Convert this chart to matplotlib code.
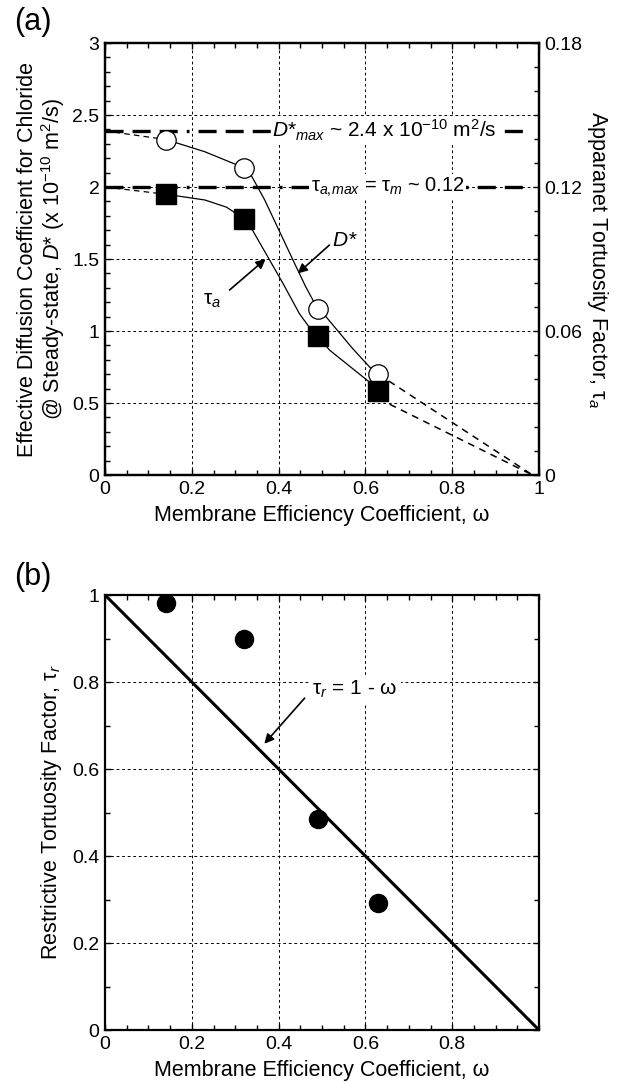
import matplotlib
matplotlib.use("Agg")
import matplotlib.pyplot as plt
from matplotlib.ticker import FixedLocator, MultipleLocator

plt.rcParams['font.family'] = 'Liberation Sans'
plt.rcParams['font.size'] = 14
plt.rcParams['mathtext.fontset'] = 'custom'
plt.rcParams['mathtext.rm'] = 'Liberation Sans'
plt.rcParams['mathtext.it'] = 'Liberation Sans:italic'
plt.rcParams['mathtext.bf'] = 'Liberation Sans:bold'
plt.rcParams['lines.scale_dashes'] = False

# ---- panel (a) data ----
omega = [0.14, 0.32, 0.49, 0.63]
d_star = [2.33, 2.134, 1.153, 0.70]          # x 1e-10 m2/s
tau_a = [0.117, 0.1068, 0.0579, 0.0351]      # apparent tortuosity

# smooth curves
d_curve_x = [0.14, 0.23, 0.32, 0.337, 0.368, 0.40, 0.432, 0.462, 0.49, 0.509, 0.57, 0.609, 0.63]
d_curve_y = [2.33, 2.245, 2.134, 2.08, 1.91, 1.705, 1.50, 1.31, 1.153, 1.10, 0.88, 0.752, 0.70]
t_curve_x = [0.14, 0.23, 0.28, 0.32, 0.337, 0.377, 0.412, 0.448, 0.471, 0.49, 0.517, 0.608, 0.63]
t_curve_y = [0.117, 0.1146, 0.1116, 0.1068, 0.1029, 0.0903, 0.0792, 0.0672, 0.0615, 0.0579, 0.0521, 0.0389, 0.0351]

# dashed extrapolations
d_ext_left = ([0.0, 0.14], [2.39, 2.33])
d_ext_right = ([0.63, 0.985], [0.70, 0.0])
t_ext_left = ([0.0, 0.14], [0.120, 0.117])
t_ext_right = ([0.63, 0.985], [0.0318, 0.0])

d_max = 2.39
tau_max = 0.12

# ---- panel (b) data ----
omega_b = [0.14, 0.32, 0.49, 0.63]
tau_r = [0.981, 0.898, 0.485, 0.291]
line_x = [0.0, 1.0]
line_y = [1.0, 0.0]

fig = plt.figure(figsize=(6.24, 10.84), dpi=100)
ax = fig.add_axes([0.1683, 0.5618, 0.6955, 0.3985])
ax2 = ax.twinx()
axb = fig.add_axes([0.1683, 0.0498, 0.6955, 0.4013])

grid_kw = dict(color='black', linewidth=0.7, linestyle=(0, (2, 2)), zorder=0)
ref_dash = (13, 6.5, 13, 6.5, 13, 6.5, 2, 6.5)


def style_ticks(a):
    a.tick_params(which='both', direction='in', width=1.0, labelsize=14)
    a.tick_params(which='major', length=4.5, pad=4)
    a.tick_params(which='minor', length=3.5)
    for s in a.spines.values():
        s.set_linewidth(1.6)


# ---------- (a) ----------
ax.set_xlim(0, 1)
ax.set_ylim(0, 3)
ax2.set_ylim(0, 0.18)
ax.xaxis.set_major_locator(FixedLocator([0, 0.2, 0.4, 0.6, 0.8, 1.0]))
ax.set_xticklabels(['0', '0.2', '0.4', '0.6', '0.8', '1'])
ax.xaxis.set_minor_locator(MultipleLocator(0.05))
ax.yaxis.set_major_locator(FixedLocator([0, 0.5, 1, 1.5, 2, 2.5, 3]))
ax.set_yticklabels(['0', '0.5', '1', '1.5', '2', '2.5', '3'])
ax.yaxis.set_minor_locator(MultipleLocator(0.1))
ax2.yaxis.set_major_locator(FixedLocator([0, 0.06, 0.12, 0.18]))
ax2.set_yticklabels(['0', '0.06', '0.12', '0.18'])
ax2.yaxis.set_minor_locator(MultipleLocator(0.01))
style_ticks(ax)
style_ticks(ax2)
ax.tick_params(which='both', top=True)
ax.tick_params(axis='y', which='both', right=False)

for gx in [0.2, 0.4, 0.6, 0.8]:
    ax.axvline(gx, **grid_kw)
for gy in [0.5, 1.0, 1.5, 2.0, 2.5]:
    ax.axhline(gy, **grid_kw)

# D* max line and label
ax.plot([0, 0.98], [d_max, d_max], color='black', linewidth=2.4,
        dashes=ref_dash, zorder=2)
ax.text(0.385, d_max, r'$D$*$_{max}$ ~ 2.4 x 10$^{-10}$ m$^2$/s', fontsize=15,
        va='center', ha='left', zorder=3,
        bbox=dict(facecolor='white', edgecolor='none', pad=1))

# D* series
ax.plot(d_curve_x, d_curve_y, color='black', linewidth=0.9, zorder=3)
ax.plot(*d_ext_left, color='black', linewidth=0.9, dashes=(4, 3), zorder=3)
ax.plot(*d_ext_right, color='black', linewidth=1.1, dashes=(5, 4), zorder=3)
ax.plot(omega, d_star, linestyle='none', marker='o', markersize=14,
        markerfacecolor='white', markeredgecolor='black', markeredgewidth=0.9, zorder=4)

ax.annotate('', xy=(0.444, 1.40), xytext=(0.517, 1.597),
            arrowprops=dict(arrowstyle='-|>', color='black', lw=1.2,
                            mutation_scale=14, shrinkA=0, shrinkB=0))
ax.text(0.522, 1.63, r'$D$*', fontsize=15, fontstyle='italic', va='center', ha='left')

# tau_a series on right axis
ax2.plot([0, 0.98], [tau_max, tau_max], color='black', linewidth=2.4,
         dashes=ref_dash, zorder=2)
ax2.text(0.474, tau_max, r'τ$_{a,\!max}$ = τ$_m$ ~ $\mathit{0.12}$', fontsize=14.5,
         va='center', ha='left', zorder=3,
         bbox=dict(facecolor='white', edgecolor='none', pad=1))
ax2.plot(t_curve_x, t_curve_y, color='black', linewidth=0.9, zorder=3)
ax2.plot(*t_ext_left, color='black', linewidth=0.9, dashes=(4, 3), zorder=3)
ax2.plot(*t_ext_right, color='black', linewidth=1.1, dashes=(5, 4), zorder=3)
ax2.plot(omega, tau_a, linestyle='none', marker='s', markersize=14,
         markerfacecolor='black', markeredgecolor='black', zorder=4)
ax2.annotate('', xy=(0.37, 0.090), xytext=(0.287, 0.0771),
             arrowprops=dict(arrowstyle='-|>', color='black', lw=1.2,
                             mutation_scale=14, shrinkA=0, shrinkB=0))
ax2.text(0.225, 0.0729, 'τ$_a$', fontsize=15, va='center', ha='left')

ax.set_xlabel('Membrane Efficiency Coefficient, ω', fontsize=15.5, labelpad=5)
ax.set_ylabel('Effective Diffusion Coefficient for Chloride\n'
              r'@ Steady-state, $D$* (x 10$^{-10}$ m$^2$/s)', fontsize=15.5,
              labelpad=4, linespacing=1.05)
ax2.set_ylabel('Apparanet Tortuosity Factor, τ$_a$', fontsize=15.5,
               rotation=270, labelpad=20)
fig.text(0.022, 0.980, '(a)', fontsize=22, va='center', ha='left')

# ---------- (b) ----------
axb.set_xlim(0, 1)
axb.set_ylim(0, 1)
axb.xaxis.set_major_locator(FixedLocator([0, 0.2, 0.4, 0.6, 0.8]))
axb.set_xticklabels(['0', '0.2', '0.4', '0.6', '0.8'])
axb.xaxis.set_minor_locator(MultipleLocator(0.05))
axb.yaxis.set_major_locator(FixedLocator([0, 0.2, 0.4, 0.6, 0.8, 1.0]))
axb.set_yticklabels(['0', '0.2', '0.4', '0.6', '0.8', '1'])
axb.yaxis.set_minor_locator(MultipleLocator(0.1))
style_ticks(axb)
axb.tick_params(which='both', top=True, right=True)

for gx in [0.2, 0.4, 0.6, 0.8]:
    axb.axvline(gx, **grid_kw)
for gy in [0.2, 0.4, 0.6, 0.8]:
    axb.axhline(gy, **grid_kw)

axb.plot(line_x, line_y, color='black', linewidth=2.2, zorder=3)
axb.plot(omega_b, tau_r, linestyle='none', marker='o', markersize=13,
         color='black', zorder=4)
axb.annotate('', xy=(0.367, 0.658), xytext=(0.46, 0.763),
             arrowprops=dict(arrowstyle='-|>', color='black', lw=1.2,
                             mutation_scale=14, shrinkA=0, shrinkB=0))
axb.text(0.478, 0.782, 'τ$_r$ = 1 - ω', fontsize=15, va='center', ha='left', zorder=3,
         bbox=dict(facecolor='white', edgecolor='none', pad=2.5))

axb.set_xlabel('Membrane Efficiency Coefficient, ω', fontsize=15.5, labelpad=5)
axb.set_ylabel('Restrictive Tortuosity Factor, τ$_r$', fontsize=15.5, labelpad=6)
fig.text(0.022, 0.468, '(b)', fontsize=22, va='center', ha='left')

fig.savefig('out.png', dpi=100)
